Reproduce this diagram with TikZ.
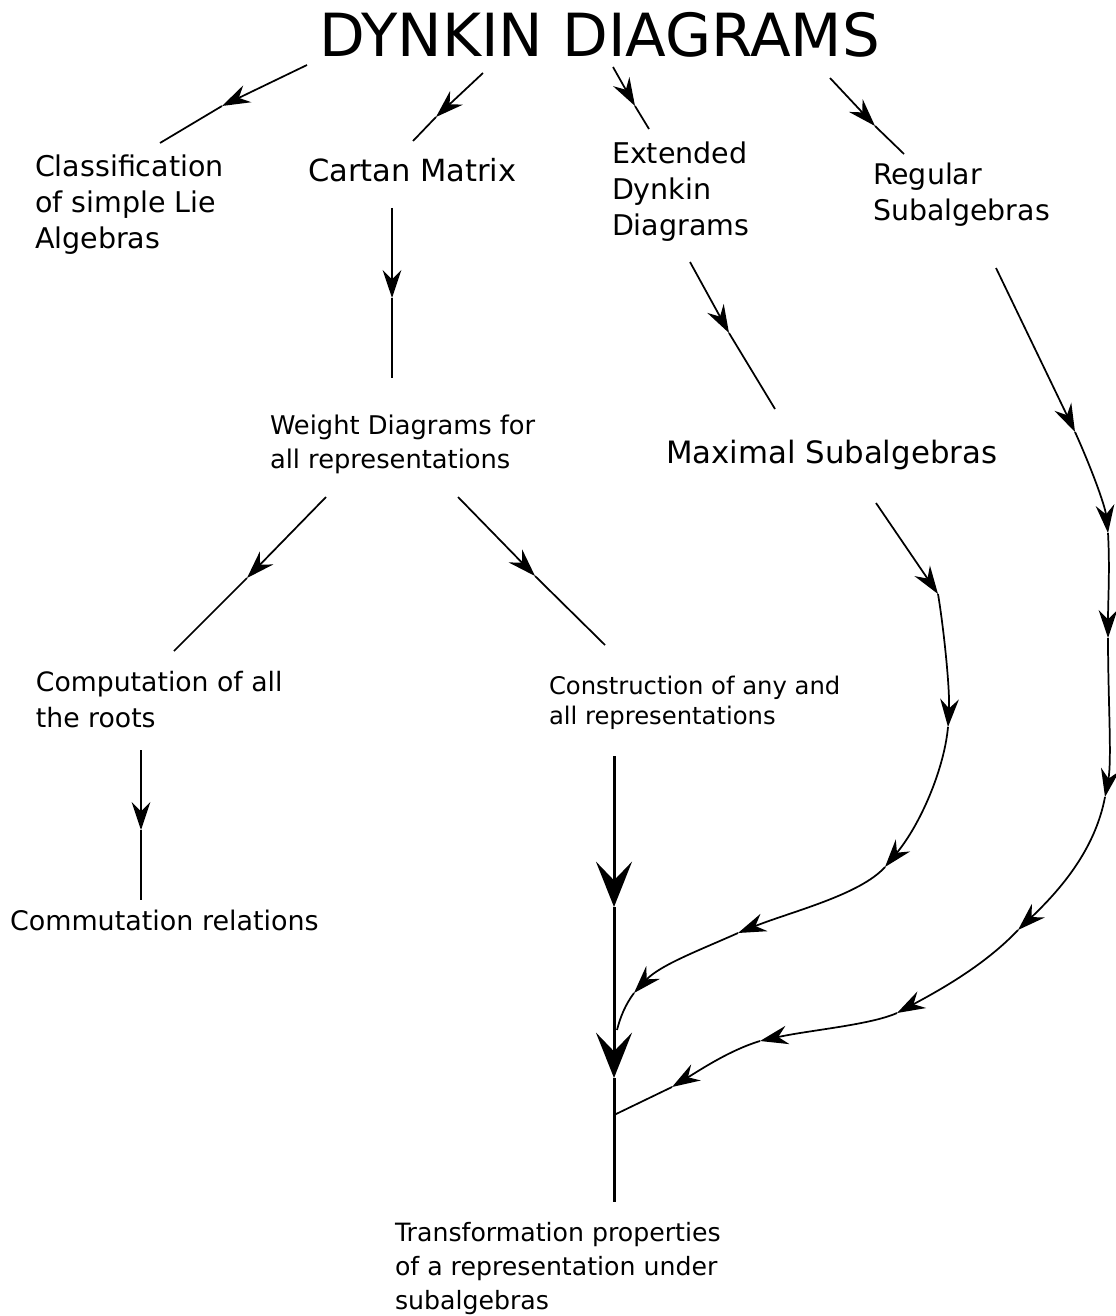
\documentclass[tikz,border=0pt]{standalone}
\usepackage{fontspec}
\setmainfont{DejaVu Sans}
\usetikzlibrary{arrows.meta}
\begin{document}
\begin{tikzpicture}[x=0.75pt,y=-0.75pt,
  lbl/.style={anchor=base west, inner sep=0pt, outer sep=0pt, align=left},
  conn/.style={line width=1.3pt},
  arr/.style={-{Stealth[length=21pt,width=14pt,inset=7pt]}},
  bigline/.style={line width=2.25pt},
  bigarr/.style={-{Stealth[length=34pt,width=27pt,inset=14pt]}}]
\useasboundingbox (0,0) rectangle (1115,1316);

% ---------- text nodes (anchored at the baseline of their last line) ----------
\node[lbl, font=\fontsize{44.6pt}{52pt}\selectfont] (title) at (319,57) {DYNKIN DIAGRAMS};
\node[lbl, font=\fontsize{21.4pt}{27pt}\selectfont] (classif) at (35,248) {Classification\\of simple Lie\\Algebras};
\node[lbl, font=\fontsize{22.9pt}{27pt}\selectfont] (cartan) at (308,182) {Cartan Matrix};
\node[lbl, font=\fontsize{21.4pt}{27pt}\selectfont] (extended) at (612,236) {Extended\\Dynkin\\Diagrams};
\node[lbl, font=\fontsize{21.3pt}{27pt}\selectfont] (regular) at (873,221) {Regular\\Subalgebras};
\node[lbl, font=\fontsize{19.3pt}{25.5pt}\selectfont] (weight) at (270,468) {Weight Diagrams for\\all representations};
\node[lbl, font=\fontsize{23.1pt}{27pt}\selectfont] (maximal) at (666,463) {Maximal Subalgebras};
\node[lbl, font=\fontsize{20pt}{26.3pt}\selectfont] (comput) at (36,727) {Computation of all\\the roots};
\node[lbl, font=\fontsize{18.2pt}{22.5pt}\selectfont] (construct) at (549,724) {Construction of any and\\all representations};
\node[lbl, font=\fontsize{20.2pt}{26pt}\selectfont] (commut) at (10,930) {Commutation relations};
\node[lbl, font=\fontsize{18.9pt}{25.5pt}\selectfont] (transf) at (395,1309) {Transformation properties\\of a representation under\\subalgebras};

% ---------- waypoints ----------
\coordinate (a1s) at (307,65);  \coordinate (a1m) at (222,106); \coordinate (a1e) at (160,143);
\coordinate (a2s) at (483,73);  \coordinate (a2m) at (436,117); \coordinate (a2e) at (413,141);
\coordinate (a3s) at (613,67);  \coordinate (a3m) at (635,106); \coordinate (a3e) at (649,129);
\coordinate (a4s) at (830,78);  \coordinate (a4m) at (875,126); \coordinate (a4e) at (904,154);
\coordinate (b1s) at (392,208); \coordinate (b1m) at (392,298); \coordinate (b1e) at (392,378);
\coordinate (b2s) at (690,262); \coordinate (b2m) at (729,333); \coordinate (b2e) at (775,409);
\coordinate (c1s) at (326,497); \coordinate (c1m) at (247,578); \coordinate (c1e) at (174,651);
\coordinate (c2s) at (458,497); \coordinate (c2m) at (535,576); \coordinate (c2e) at (605,645);
\coordinate (d1s) at (141,750); \coordinate (d1m) at (141,830); \coordinate (d1e) at (141,900);
\coordinate (T0) at (614,756); \coordinate (T1) at (614,907); \coordinate (T2) at (614,1078); \coordinate (T3) at (614,1202);
\coordinate (M0) at (876,503); \coordinate (M1) at (938,594); \coordinate (M2) at (948,727);
\coordinate (M3) at (885,867); \coordinate (M4) at (738,933); \coordinate (M5) at (634,993); \coordinate (M6) at (617,1030);
\coordinate (Q0) at (996,268); \coordinate (Q1) at (1075,432); \coordinate (Q2) at (1108,533);
\coordinate (Q3) at (1108,638); \coordinate (Q4) at (1105,797); \coordinate (Q5) at (1018,930);
\coordinate (Q6) at (897,1013); \coordinate (Q7) at (760,1041); \coordinate (Q8) at (672,1087); \coordinate (Q9) at (614,1115);

% ---------- straight connectors with mid arrows ----------
\foreach \p in {a1,a2,a3,a4,b1,b2,c1,c2,d1}{
  \draw[conn, arr] (\p s) -- (\p m);
  \draw[conn] (\p m) -- (\p e);
}

% ---------- thick trunk ----------
\draw[bigline, bigarr] (T0) -- (T1);
\draw[bigline, bigarr] (T1) -- (T2);
\draw[bigline] (T2) -- (T3);

% ---------- path from Maximal Subalgebras ----------
\draw[conn, arr] (M0) -- (M1);
\draw[conn, arr] (M1) .. controls (944,630) and (950,690) .. (M2);
\draw[conn, arr] (M2) .. controls (944,770) and (920,825) .. (M3);
\draw[conn, arr] (M3) .. controls (860,895) and (790,912) .. (M4);
\draw[conn, arr] (M4) .. controls (700,950) and (660,965) .. (M5);
\draw[conn] (M5) .. controls (625,1005) and (620,1018) .. (M6);

% ---------- path from Regular Subalgebras ----------
\draw[conn, arr] (Q0) -- (Q1);
\draw[conn, arr] (Q1) .. controls (1090,465) and (1105,505) .. (Q2);
\draw[conn, arr] (Q2) .. controls (1110,570) and (1108,600) .. (Q3);
\draw[conn, arr] (Q3) .. controls (1108,700) and (1112,760) .. (Q4);
\draw[conn, arr] (Q4) .. controls (1095,850) and (1060,890) .. (Q5);
\draw[conn, arr] (Q5) .. controls (985,965) and (940,990) .. (Q6);
\draw[conn, arr] (Q6) .. controls (870,1025) and (810,1030) .. (Q7);
\draw[conn, arr] (Q7) .. controls (730,1050) and (700,1070) .. (Q8);
\draw[conn] (Q8) -- (Q9);
\end{tikzpicture}
\end{document}
